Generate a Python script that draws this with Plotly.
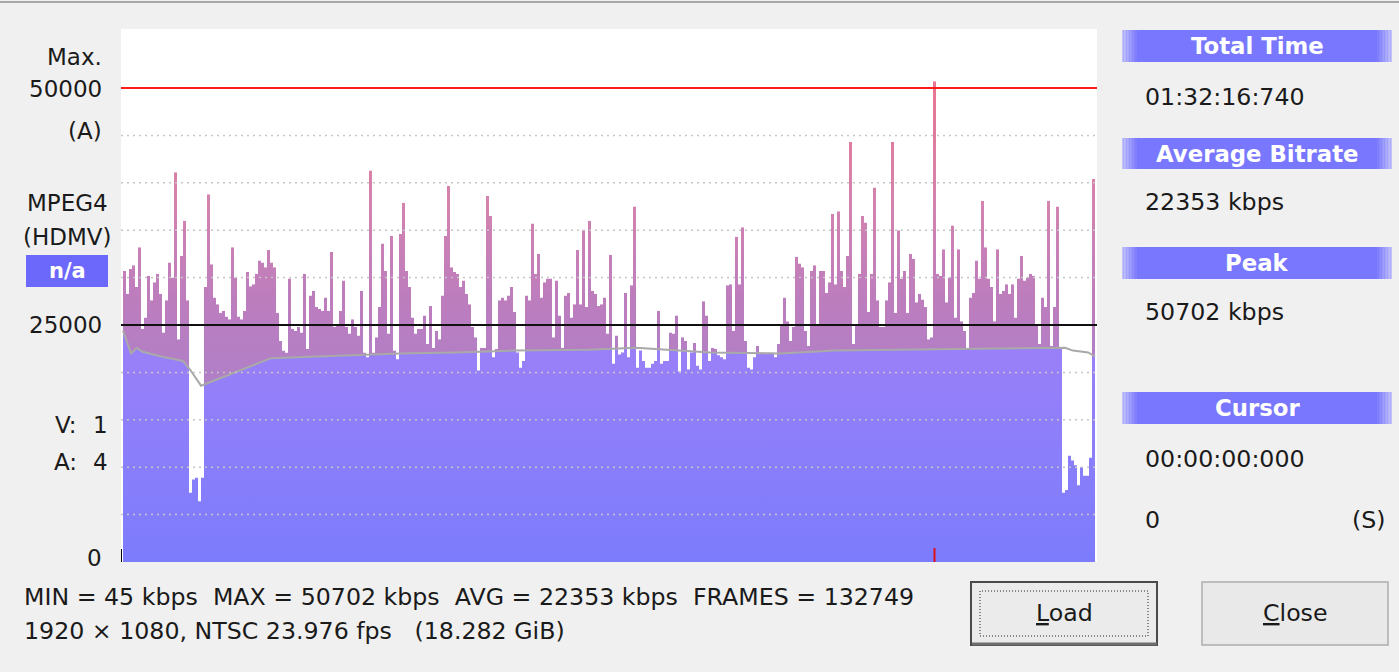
import plotly.graph_objects as go

TOTAL_MIN = 92 + 16.74 / 60          # 01:32:16:740

# bitrate per sample (kbps), left to right
bitrate_a = [30700, 28300, 30900, 31300, 29000, 33200, 24600, 25800, 30200, 27600,
             29500, 30400, 28300, 24200, 27600, 31600, 30000, 41100, 23500, 32300,
             36000, 27600, 7300, 8700, 8900, 6400, 8900, 29000, 38800, 31400,
             27900, 27200, 26300, 26500, 25900, 25600, 33200, 30000, 25900, 25600,
             26500, 30600, 29100, 29300, 30400, 31800, 31600, 31100, 32900, 31600,
             31100, 26300, 23300, 22300, 22100, 29900, 24600, 24400, 24800, 24200,
             30400, 22500, 28100, 28600, 26900]
bitrate_b = [26700, 26500, 27900, 26500, 32700, 24800, 25100, 26500, 29700, 24800,
             24100, 25600, 24800, 23900, 28600, 22100, 21600, 41300, 22100, 23700,
             26900, 33600, 30700, 24100, 34400, 22300, 21400, 34600, 37900, 30700,
             29000, 25800, 24100, 24600, 24600, 26000, 23000, 27000, 22600, 24400,
             23500, 28100, 34400, 39700, 31100, 30600, 30400, 29000, 29700, 28300,
             27200, 24800, 23700, 20200, 22600, 22600, 38600, 36500, 21600, 22500,
             27600, 27900, 27600, 28100, 29000]
bitrate_c = [26400, 22100, 20500, 21200, 28100, 27600, 35700, 30400, 32500, 27900,
             29500, 29900, 29900, 23700, 29700, 26000, 22600, 28100, 28400, 25800,
             27200, 32900, 27200, 35000, 26900, 36000, 28600, 28300, 27000, 27200,
             27900, 24100, 32400, 20900, 23900, 21900, 22100, 28400, 21600, 29200,
             37500, 20500, 22300, 21200, 20500, 20500, 20900, 21200, 26500, 20900,
             21200, 21200, 24200, 24100, 26000, 20100, 23700, 23300, 20300, 22100,
             23100, 20700, 20300, 27500, 26000]
bitrate_d = [21200, 22600, 22500, 21800, 21600, 21400, 29200, 29300, 24400, 34300,
             29300, 35300, 23300, 20500, 20300, 21600, 22800, 22100, 22100, 22100,
             22100, 22100, 21600, 23000, 25100, 27900, 25400, 23300, 24800, 32200,
             31500, 31100, 24400, 22800, 30700, 31300, 25100, 30700, 30700, 28400,
             29500, 36700, 29300, 37000, 30700, 29000, 32300, 44300, 23000, 25100,
             30400, 36500, 35800, 26400, 30400, 39500, 27600, 24800, 24800, 27600,
             29500, 44300, 26300, 35000, 29900]
bitrate_e = [30700, 26300, 32500, 32000, 27400, 28300, 27700, 26900, 23500, 23700,
             50702, 30400, 30200, 33000, 27400, 30000, 35500, 25800, 33000, 25400,
             24400, 22500, 27900, 28400, 31800, 29900, 38100, 33200, 29900, 29000,
             25400, 33000, 28300, 28600, 29300, 28300, 29300, 25800, 29900, 32300,
             29700, 30000, 30400, 30200, 25100, 23000, 27900, 26900, 38100, 22800,
             26900, 37500, 22600, 7300, 7600, 11200, 10700, 10200, 8100, 10000,
             9100, 9100, 11000, 40400]
bitrate = bitrate_a + bitrate_b + bitrate_c + bitrate_d + bitrate_e

# running average (grey line)
avg_minutes = [0.0, 0.47, 0.76, 1.33, 1.80, 3.51, 5.70, 6.36, 7.41, 14.05, 18.51, 26.30,
               31.52, 37.12, 44.15, 48.70, 55.73, 62.37, 67.60, 79.46, 89.43, 90.19,
               91.62, 92.28]
avg_kbps = [24400, 23000, 22000, 22600, 22200, 21700, 21200, 20300, 18600, 21500, 21700,
            22000, 22100, 22300, 22400, 22600, 22100, 22000, 22300, 22500, 22600, 22300,
            22100, 21700]

grid_kbps = [5000, 10000, 15000, 20000, 30000, 35000, 40000, 45000]
max_kbps = 50000
mid_kbps = 25000
cursor_min = 0.0

# ---- geometry ----
W, H = 1399, 672
L, R, T, B = 121, 1097, 29, 562
Y_TOP = 56223
FONT = "DejaVu Sans"
TXT = "#1a1a1a"


def hx(x):
    return (x - L) / (R - L)


def vy(y):
    return (B - y) / (B - T)


n = len(bitrate)
step = TOTAL_MIN / n
edges = [i * step for i in range(n + 1)]
steps_y = bitrate + [bitrate[-1]]
peak_idx = bitrate.index(max(bitrate))
peak_min = (peak_idx + 0.5) * step
pad = 2 * TOTAL_MIN / 972

fig = go.Figure()

# bars (mauve part)
fig.add_trace(go.Scatter(
    x=edges, y=steps_y, mode="lines", line=dict(width=0, shape="hv"),
    fill="tozeroy",
    fillgradient=dict(type="vertical", start=0, stop=51000,
                      colorscale=[[0, "#a884cc"], [0.4, "#b27fc6"], [0.55, "#bd7dbd"],
                                  [0.75, "#d483ae"], [1, "#ea7590"]]),
    hoverinfo="skip", showlegend=False))

# blue part under the running average
fig.add_trace(go.Scatter(
    x=avg_minutes, y=avg_kbps, mode="lines", line=dict(width=0),
    fill="tozeroy",
    fillgradient=dict(type="vertical", start=0, stop=23000,
                      colorscale=[[0, "#7c7cfc"], [1, "#9a80f8"]]),
    hoverinfo="skip", showlegend=False))

# white above the bars
fig.add_trace(go.Scatter(
    x=edges + [edges[-1], edges[0]], y=steps_y + [Y_TOP * 1.05, Y_TOP * 1.05],
    mode="lines", line=dict(width=0, shape="hv"),
    fill="toself", fillcolor="white", hoverinfo="skip", showlegend=False))

# average line
fig.add_trace(go.Scatter(
    x=avg_minutes, y=avg_kbps, mode="lines",
    line=dict(color="#a9a9a9", width=2), hoverinfo="skip", showlegend=False))

shapes = []
for g in grid_kbps:
    shapes.append(dict(type="line", xref="paper", yref="y", x0=0, x1=1, y0=g, y1=g,
                       line=dict(color="#c6c6c6", width=1.5, dash="2px,4px"), layer="above"))
shapes.append(dict(type="line", xref="paper", yref="y", x0=0, x1=1, y0=mid_kbps, y1=mid_kbps,
                   line=dict(color="#111111", width=2), layer="above"))
shapes.append(dict(type="line", xref="paper", yref="y", x0=0, x1=1, y0=max_kbps, y1=max_kbps,
                   line=dict(color="#ff1a1a", width=2), layer="above"))
# cursor / peak markers on the time axis
shapes.append(dict(type="line", xref="x", yref="paper", x0=cursor_min - pad, x1=cursor_min - pad,
                   y0=0, y1=vy(549), line=dict(color="#000000", width=2), layer="above"))
shapes.append(dict(type="line", xref="x", yref="paper", x0=peak_min, x1=peak_min,
                   y0=0, y1=vy(548), line=dict(color="#e0101a", width=2), layer="above"))

# top border of the window
shapes.append(dict(type="line", xref="paper", yref="paper", x0=hx(0), x1=hx(W),
                   y0=vy(2), y1=vy(2), line=dict(color="#a8a8a8", width=2)))

# n/a box
shapes.append(dict(type="rect", xref="paper", yref="paper", x0=hx(26), x1=hx(108),
                   y0=vy(287), y1=vy(255), fillcolor="#6b68fb", line=dict(width=0)))


def blend(c1, c2, f):
    a = [int(c1[i:i + 2], 16) for i in (1, 3, 5)]
    b = [int(c2[i:i + 2], 16) for i in (1, 3, 5)]
    return "#" + "".join("%02x" % round(a[k] + (b[k] - a[k]) * f) for k in range(3))


def header_bar(y0, y1):
    x0, x1 = 1122, 1392
    main = "#7877fd"
    light = "#c4c4fb"
    shapes.append(dict(type="rect", xref="paper", yref="paper", x0=hx(x0), x1=hx(x1),
                       y0=vy(y1), y1=vy(y0), fillcolor=main, line=dict(width=0)))
    for i in range(10):
        c = blend(light, main, i / 10)
        shapes.append(dict(type="rect", xref="paper", yref="paper", x0=hx(x0 + i * 1.5),
                           x1=hx(x0 + (i + 1) * 1.5), y0=vy(y1), y1=vy(y0), fillcolor=c,
                           line=dict(width=0)))
        shapes.append(dict(type="rect", xref="paper", yref="paper", x0=hx(x1 - (i + 1) * 1.5),
                           x1=hx(x1 - i * 1.5), y0=vy(y1), y1=vy(y0), fillcolor=c,
                           line=dict(width=0)))


for (a, b) in [(30, 62), (138, 169), (247, 279), (392, 424)]:
    header_bar(a, b)

# buttons
shapes.append(dict(type="rect", xref="paper", yref="paper", x0=hx(971), x1=hx(1157),
                   y0=vy(645), y1=vy(582), fillcolor="#ebebeb", line=dict(color="#4a4a4a", width=2)))
shapes.append(dict(type="line", xref="paper", yref="paper", x0=hx(972), x1=hx(1157),
                   y0=vy(644), y1=vy(644), line=dict(color="#6e6e6e", width=3)))
shapes.append(dict(type="rect", xref="paper", yref="paper", x0=hx(980), x1=hx(1148),
                   y0=vy(636), y1=vy(591), line=dict(color="#222222", width=1, dash="1px,2px")))
shapes.append(dict(type="rect", xref="paper", yref="paper", x0=hx(1202), x1=hx(1388),
                   y0=vy(645), y1=vy(582), fillcolor="#e9e9e9", line=dict(color="#adadad", width=1.5)))

annotations = []


def label(text, x, y, anchor="right", size=23.7, color=TXT, bold=False):
    if bold:
        text = "<b>" + text + "</b>"
    annotations.append(dict(text=text, x=hx(x), y=vy(y), xref="paper", yref="paper",
                            xanchor=anchor, yanchor="middle", showarrow=False,
                            font=dict(family=FONT, size=size, color=color)))


# left side
label("Max.", 104, 57, size=23)
label("50000", 104, 89, size=23)
label("(A)", 104, 131, size=23)
label("MPEG4", 67, 203, anchor="center", size=23)
label("(HDMV)", 67, 237, anchor="center", size=23)
label("n/a", 67, 271, anchor="center", size=21, color="white", bold=True)
label("25000", 104, 325, size=23)
label("V:", 79, 425, size=23)
label("1", 110, 425, size=23)
label("A:", 79, 462, size=23)
label("4", 110, 462, size=23)
label("0", 104, 558, size=23)

# right panel
HB = 22.8
label("Total Time", 1257, 46, anchor="center", size=HB, color="white", bold=True)
label("01:32:16:740", 1143, 97, anchor="left")
label("Average Bitrate", 1257, 154, anchor="center", size=HB, color="white", bold=True)
label("22353 kbps", 1143, 202, anchor="left")
label("Peak", 1257, 263, anchor="center", size=HB, color="white", bold=True)
label("50702 kbps", 1143, 312, anchor="left")
label("Cursor", 1257, 408, anchor="center", size=HB, color="white", bold=True)
label("00:00:00:000", 1143, 459, anchor="left")
label("0", 1143, 520, anchor="left")
label("(S)", 1388, 520)

# bottom info
NB = "\u00a0"
label("MIN = 45 kbps" + NB * 2 + "MAX = 50702 kbps" + NB * 2 + "AVG = 22353 kbps" + NB * 2
      + "FRAMES = 132749", 22, 597, anchor="left")
label("1920 × 1080, NTSC 23.976 fps" + NB * 3 + "(18.282 GiB)", 22, 631, anchor="left")
label("<u>L</u>oad", 1064, 613, anchor="center")
label("<u>C</u>lose", 1295, 613, anchor="center")

fig.update_layout(
    width=W, height=H,
    margin=dict(l=L, r=W - R, t=T, b=H - B, pad=0),
    paper_bgcolor="#f0f0f0", plot_bgcolor="white",
    xaxis=dict(range=[-pad, TOTAL_MIN + pad], visible=False, showgrid=False, zeroline=False),
    yaxis=dict(range=[0, Y_TOP], visible=False, showgrid=False, zeroline=False),
    shapes=shapes, annotations=annotations, showlegend=False,
)

# drop the page's default body margin so the figure sits at the window's corner
fig.write_html("out.html", config={"displayModeBar": False},
               post_script="document.body.style.margin='0';document.body.style.background='#f0f0f0';")
